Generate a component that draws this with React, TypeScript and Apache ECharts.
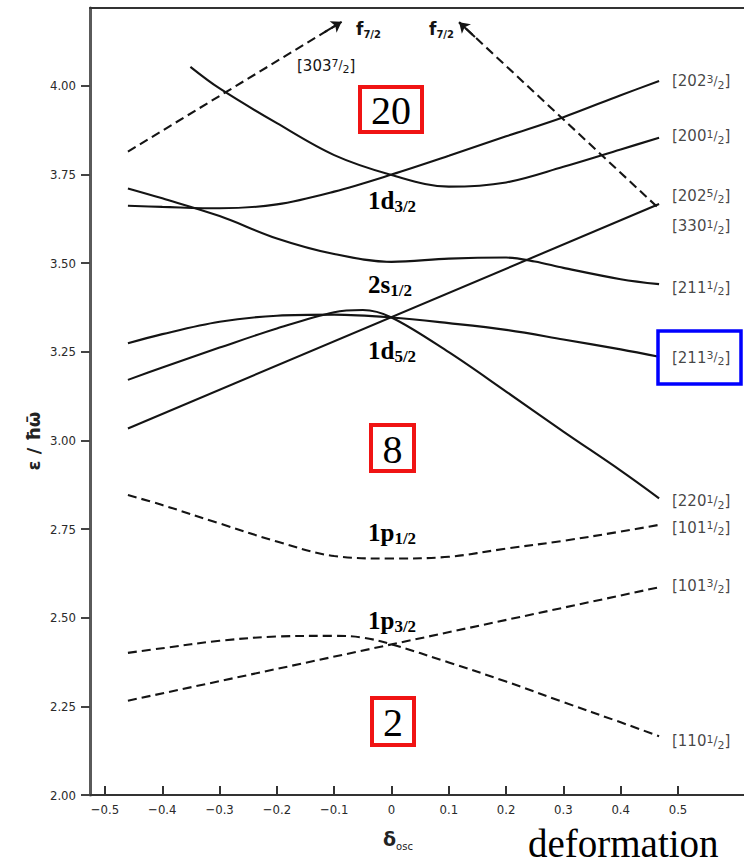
import React, { useEffect, useRef } from 'react';
import * as echarts from 'echarts';

// axis ranges
const X_MIN = -0.5262;
const X_MAX = 0.6152;
const Y_MIN = 2.0;
const Y_MAX = 4.22;

const xTickValues = [-0.5, -0.4, -0.3, -0.2, -0.1, 0, 0.1, 0.2, 0.3, 0.4, 0.5];
const yTickValues = [2.0, 2.25, 2.5, 2.75, 3.0, 3.25, 3.5, 3.75, 4.0];

// solid levels (positive parity, N=2)
const level202_32: [number, number][] = [[-0.46, 3.662], [-0.4, 3.659], [-0.3, 3.655], [-0.2, 3.666], [-0.1, 3.702], [0, 3.75], [0.1, 3.803], [0.2, 3.858], [0.3, 3.912], [0.4, 3.974], [0.467, 4.014]];
const level200_12: [number, number][] = [[-0.351, 4.054], [-0.3, 3.993], [-0.2, 3.895], [-0.1, 3.805], [0, 3.749], [0.1, 3.716], [0.2, 3.728], [0.3, 3.772], [0.4, 3.821], [0.467, 3.854]];
const level211_12: [number, number][] = [[-0.46, 3.711], [-0.4, 3.683], [-0.3, 3.633], [-0.2, 3.57], [-0.1, 3.526], [0, 3.504], [0.1, 3.513], [0.2, 3.516], [0.25, 3.505], [0.3, 3.487], [0.4, 3.455], [0.467, 3.441]];
const level202_52: [number, number][] = [[-0.46, 3.034], [0.467, 3.667]];
const level220_12: [number, number][] = [[-0.46, 3.171], [-0.4, 3.206], [-0.3, 3.262], [-0.2, 3.316], [-0.1, 3.362], [-0.05, 3.368], [0, 3.347], [0.1, 3.249], [0.2, 3.138], [0.3, 3.025], [0.4, 2.915], [0.467, 2.837]];
const level211_32: [number, number][] = [[-0.46, 3.274], [-0.4, 3.3], [-0.3, 3.335], [-0.2, 3.352], [-0.1, 3.355], [0, 3.347], [0.1, 3.331], [0.2, 3.312], [0.3, 3.285], [0.4, 3.257], [0.467, 3.236]];

// dashed levels (negative parity, N=1 and N=3)
const level101_12: [number, number][] = [[-0.46, 2.846], [-0.4, 2.818], [-0.3, 2.766], [-0.2, 2.715], [-0.1, 2.674], [0, 2.667], [0.1, 2.672], [0.2, 2.695], [0.3, 2.717], [0.4, 2.743], [0.467, 2.762]];
const level110_12: [number, number][] = [[-0.46, 2.401], [-0.4, 2.414], [-0.3, 2.435], [-0.2, 2.447], [-0.1, 2.449], [-0.05, 2.444], [0, 2.425], [0.1, 2.374], [0.2, 2.32], [0.3, 2.262], [0.4, 2.205], [0.467, 2.166]];
const level101_32: [number, number][] = [[-0.46, 2.266], [0.467, 2.586]];
const level303_72: [number, number][] = [[-0.46, 3.815], [-0.087, 4.181]];
const level330_12: [number, number][] = [[0.463, 3.66], [0.118, 4.18]];

// right-hand Nilsson labels
const rightLabelCodes = ['202', '200', '202', '330', '211', '211', '220', '101', '101', '110'];
const rightLabelOmega = ['3', '1', '5', '1', '1', '3', '1', '1', '3', '1'];
const rightLabelE = [4.011, 3.856, 3.687, 3.602, 3.428, 3.231, 2.826, 2.751, 2.587, 2.149];
const RIGHT_LABEL_X = 0.4895;

// spherical shell labels
const shellNames = ['1d', '2s', '1d', '1p', '1p'];
const shellJ = ['3/2', '1/2', '5/2', '1/2', '3/2'];
const magicNumbers = ['20', '8', '2'];

const SANS = '"DejaVu Sans", Verdana, sans-serif';
const NARROW = '"DejaVu Sans Condensed", "Liberation Sans Narrow", Roboto, sans-serif';
const SERIF = '"Liberation Serif", "Times New Roman", serif';
const INK = '#141414';

const fracRich = {
  n: { fontSize: 15, verticalAlign: 'top', fontFamily: SANS, color: INK, fill: INK },
  u: { fontSize: 11, verticalAlign: 'top', fontFamily: SANS, color: INK, fill: INK },
  sl: { fontSize: 12, verticalAlign: 'top', padding: [1, 0, 0, 0], fontFamily: SANS, color: INK, fill: INK },
  d: { fontSize: 11, verticalAlign: 'top', padding: [6, 0, 0, 0], fontFamily: SANS, color: INK, fill: INK },
};
const fracText = (code: string, om: string) => `{n|[${code}}{u|${om}}{sl|/}{d|2}{n|]}`;

function solid(name: string, data: [number, number][], smooth = true) {
  return {
    type: 'line', name, data, symbol: 'none', showSymbol: false, smooth: smooth ? 0.35 : false,
    lineStyle: { color: INK, width: 2.1 }, silent: true, z: 3,
  };
}
function dashed(name: string, data: [number, number][], smooth = true) {
  return {
    type: 'line', name, data, symbol: 'none', showSymbol: false, smooth: smooth ? 0.35 : false,
    lineStyle: { color: INK, width: 2.1, type: [9, 5] }, silent: true, z: 3,
  };
}
function arrowLine(name: string, data: [number, number][]) {
  const a = data[data.length - 2];
  const b = data[data.length - 1];
  const t = 0.92;
  const s: [number, number] = [a[0] + (b[0] - a[0]) * t, a[1] + (b[1] - a[1]) * t];
  return {
    ...dashed(name, data, false),
    markLine: {
      silent: true, symbol: ['none', 'arrow'], symbolSize: 10,
      label: { show: false },
      lineStyle: { color: INK, width: 2, type: 'solid' },
      data: [[{ coord: s }, { coord: b }]],
    },
  };
}

export default function App() {
  const ref = useRef<HTMLDivElement>(null);
  useEffect(() => {
    if (!ref.current) return;
    const chart = echarts.init(ref.current, undefined, { renderer: 'svg' });

    const boxes = [
      { t: magicNumbers[0], x: 360, y: 87, w: 62, h: 45 },
      { t: magicNumbers[1], x: 371, y: 425, w: 43, h: 46 },
      { t: magicNumbers[2], x: 372, y: 698, w: 42, h: 47 },
    ];
    const shellTops = [188, 272, 338, 520, 608];

    const graphics: any[] = [];
    boxes.forEach((b) => {
      graphics.push({
        type: 'rect', shape: { x: b.x, y: b.y, width: b.w, height: b.h }, z: 10,
        style: { fill: '#fff', stroke: '#f01414', lineWidth: 4 },
      });
      graphics.push({
        type: 'text', x: b.x + b.w / 2, y: b.y + b.h / 2 + 1, z: 11,
        style: { text: b.t, align: 'center', verticalAlign: 'middle', font: `40px ${SERIF}`, fill: '#000' },
      });
    });
    graphics.push({
      type: 'rect', shape: { x: 658, y: 331, width: 83, height: 53 }, z: 10,
      style: { fill: 'none', stroke: '#0000ff', lineWidth: 3.5 },
    });
    shellNames.forEach((n, i) => {
      graphics.push({
        type: 'text', x: 368, y: shellTops[i], z: 11,
        style: {
          text: `{m|${n}}{s|${shellJ[i]}}`, align: 'left', verticalAlign: 'top',
          rich: {
            m: { fontSize: 25, fontWeight: 'bold', fontFamily: SERIF, verticalAlign: 'top', fill: '#000' },
            s: { fontSize: 17, fontWeight: 'bold', fontFamily: SERIF, verticalAlign: 'top', padding: [10, 0, 0, 0], fill: '#000' },
          },
        },
      });
    });
    // f7/2 labels near the arrows
    [356, 429].forEach((x) => {
      graphics.push({
        type: 'text', x, y: 20, z: 11,
        style: {
          text: '{f|f}{s|7/2}', align: 'left', verticalAlign: 'top',
          rich: {
            f: { fontSize: 17, fontWeight: 'bold', fontFamily: SANS, verticalAlign: 'top', fill: INK },
            s: { fontSize: 10, fontWeight: 'bold', fontFamily: SANS, verticalAlign: 'top', padding: [9, 0, 0, 0], fill: INK },
          },
        },
      });
    });
    graphics.push({
      type: 'text', x: 297, y: 58, z: 11,
      style: { text: fracText('303', '7'), align: 'left', verticalAlign: 'top', rich: fracRich },
    });
    // axis names
    graphics.push({
      type: 'text', x: 33, y: 441, rotation: Math.PI / 2, z: 11,
      style: { text: 'ε / ħω\u0304', align: 'center', verticalAlign: 'middle', font: `bold 18px ${SANS}`, fill: '#222' },
    });
    graphics.push({
      type: 'text', x: 383, y: 829, z: 11,
      style: {
        text: '{d|δ}{o|osc}', align: 'left', verticalAlign: 'top',
        rich: {
          d: { fontSize: 19, fontWeight: 'bold', fontFamily: SANS, verticalAlign: 'top', fill: '#222' },
          o: { fontSize: 10, fontFamily: SANS, verticalAlign: 'top', padding: [12, 0, 0, 0], fill: '#222' },
        },
      },
    });
    graphics.push({
      type: 'text', x: 528, y: 843, z: 11,
      style: { text: 'deformation', align: 'left', verticalAlign: 'middle', font: `39px ${SERIF}`, fill: '#000' },
    });

    const axisFont = { fontSize: 13, fontFamily: NARROW, color: '#2a2a2a' };

    const option: any = {
      animation: false,
      backgroundColor: '#fff',
      grid: { left: 90, right: 0, top: 8, bottom: 68, containLabel: false },
      xAxis: [
        {
          type: 'value', min: X_MIN, max: X_MAX, position: 'bottom',
          axisLine: { show: true, onZero: false, lineStyle: { color: '#333', width: 2 } },
          axisTick: { show: true, inside: true, length: 9, customValues: xTickValues, lineStyle: { color: '#333', width: 2 } },
          axisLabel: {
            ...axisFont, margin: 8, customValues: xTickValues,
            formatter: (v: number) => (Math.abs(v) < 1e-9 ? '0' : (v < 0 ? '−' : '') + Math.abs(v).toFixed(1)),
          },
          splitLine: { show: false },
        },
        {
          type: 'value', min: X_MIN, max: X_MAX, position: 'top',
          axisLine: { show: true, onZero: false, lineStyle: { color: '#333', width: 2 } },
          axisTick: { show: false }, axisLabel: { show: false }, splitLine: { show: false },
        },
      ],
      yAxis: {
        type: 'value', min: Y_MIN, max: Y_MAX,
        axisLine: { show: true, onZero: false, lineStyle: { color: '#5a5a5a', width: 3 } },
        axisTick: { show: true, inside: false, length: 9, customValues: yTickValues, lineStyle: { color: '#444', width: 2 } },
        axisLabel: { ...axisFont, margin: 14, customValues: yTickValues, formatter: (v: number) => v.toFixed(2) },
        splitLine: { show: false },
      },
      series: [
        solid('[202 3/2]', level202_32),
        solid('[200 1/2]', level200_12),
        solid('[211 1/2]', level211_12),
        solid('[202 5/2]', level202_52, false),
        solid('[220 1/2]', level220_12),
        solid('[211 3/2]', level211_32),
        dashed('[101 1/2]', level101_12),
        dashed('[110 1/2]', level110_12),
        dashed('[101 3/2]', level101_32, false),
        arrowLine('[303 7/2]', level303_72),
        arrowLine('[330 1/2]', level330_12),
        {
          type: 'scatter', name: 'labels', silent: true, symbolSize: 0, z: 5,
          data: rightLabelE.map((e) => [RIGHT_LABEL_X, e]),
          label: {
            show: true, position: 'right', distance: 0,
            formatter: (p: any) => fracText(rightLabelCodes[p.dataIndex], rightLabelOmega[p.dataIndex]),
            rich: fracRich,
          },
        },
      ],
      graphic: { elements: graphics },
    };

    chart.setOption(option);
    return () => chart.dispose();
  }, []);

  return (
    <div
      ref={ref}
      style={{ position: 'absolute', left: 0, top: 0, width: 744, height: 863, background: '#fff' }}
    />
  );
}
